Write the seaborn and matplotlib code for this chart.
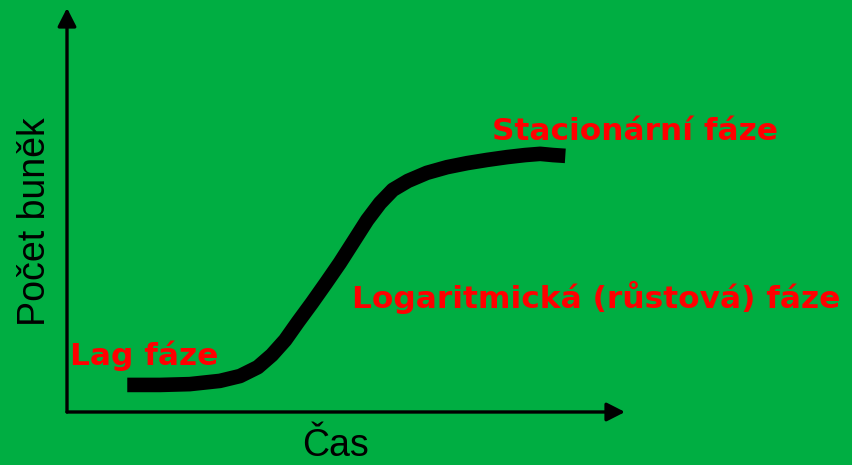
import seaborn as sns
import matplotlib.pyplot as plt
import pandas as pd

# growth curve (arbitrary units, 0-100 on both axes)
cas = [10.8, 16.7, 22.0, 27.4, 31.0, 34.2, 36.7, 39.1, 41.4, 43.9, 46.4, 48.9, 51.4,
       53.8, 56.1, 58.4, 61.1, 64.5, 68.1, 71.7, 75.3, 78.9, 82.1, 84.8, 87.1, 89.3]
pocet = [6.7, 6.7, 6.9, 7.7, 8.9, 11.1, 14.1, 17.8, 22.3, 27.0, 31.9, 36.9, 42.3,
         47.5, 51.7, 55.0, 57.2, 59.2, 60.6, 61.6, 62.4, 63.1, 63.6, 63.9, 63.6, 63.4]

phase_labels = ["Lag fáze", "Logaritmická (růstová) fáze", "Stacionární fáze"]
phase_x = [0.5, 51.1, 76.2]
phase_y = [11.6, 25.7, 67.3]

x_label = "Čas"
y_label = "Počet buněk"

bg = "#00AE42"

sns.set_theme(style="white")
plt.rcParams['font.family'] = ['Liberation Sans', 'DejaVu Sans']

df = pd.DataFrame({'cas': cas, 'pocet': pocet})

fig = plt.figure(figsize=(8.53, 4.65), dpi=100, facecolor=bg)
ax = fig.add_axes([67 / 853, 53 / 465, 558 / 853, 404 / 465])
ax.set_facecolor(bg)

sns.lineplot(data=df, x='cas', y='pocet', color='black', linewidth=10.5,
             ax=ax, sort=False, solid_capstyle='butt', solid_joinstyle='round')

ax.set_xlim(0, 100)
ax.set_ylim(0, 100)
for s in ax.spines.values():
    s.set_visible(False)
ax.set_xticks([])
ax.set_yticks([])
ax.set_xlabel("")
ax.set_ylabel("")

# axes drawn as arrows
arrow = dict(arrowstyle='-|>,head_length=0.55,head_width=0.28', color='black', lw=2.4,
             shrinkA=0, shrinkB=0, mutation_scale=20)
ax.annotate("", xy=(0, 1.0), xytext=(0, 0), xycoords='axes fraction',
            arrowprops=arrow, annotation_clip=False)
ax.annotate("", xy=(1.0, 0), xytext=(0, 0), xycoords='axes fraction',
            arrowprops=arrow, annotation_clip=False)

# phase labels
for lab, x, y in zip(phase_labels, phase_x, phase_y):
    ax.text(x, y, lab, color='#FF0000', fontsize=22.5, fontweight='bold',
            family=['DejaVu Sans'], ha='left', va='baseline')

fig.text(336 / 853, 1 - 446 / 465, x_label, fontsize=27, color='black',
         ha='center', va='center')
fig.text(35 / 853, 1 - 222 / 465, y_label, fontsize=27, color='black', rotation=90,
         ha='center', va='center')

fig.savefig("out.png", dpi=100, facecolor=bg)
